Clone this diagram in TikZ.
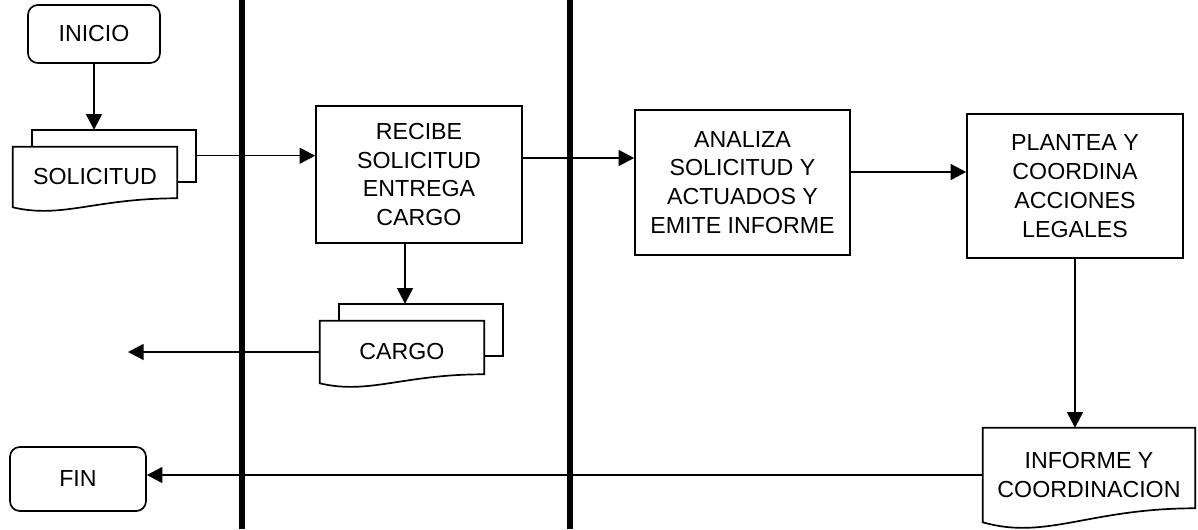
\documentclass[tikz,border=0pt]{standalone}
\usepackage{fontspec}
\setmainfont{Liberation Sans}
\usetikzlibrary{calc,arrows.meta}

\begin{document}
\begin{tikzpicture}[>={Triangle[length=0.39cm,width=0.4cm]}, x=0.025cm, y=-0.025cm]

% one layout pixel
\def\px{0.025cm}
\def\primaryColor{black}

\tikzset{
    boxText/.style={align=center, font=\fontsize{16.5}{20.5}\selectfont, inner sep=0pt, text=\primaryColor},
    process/.style={boxText, draw=\primaryColor, line width=1.2pt},
    terminal/.style={process, rounded corners=7pt},
    docLine/.style={\primaryColor, line width=1.2pt},
    flow/.style={->, \primaryColor, line width=1pt},
}

\useasboundingbox (0,0) rectangle (1198,529);

% document outline with wavy bottom
\newcommand\docOutline[2]{
    % first argument is the name of the node
    % holding the text of the document
    % second is how far the right end of the
    % wavy bottom rises above the left end
    \draw[docLine] (#1.south west) -- (#1.north west) -- (#1.north east) -- ($(#1.south east)+(0,-#2)$) .. controls ($(#1.south)+(0,-#2)$) and ($(#1.south west)!0.3!(#1.south east)+(0,1.3*#2)$) .. (#1.south west) -- cycle;
}
% second sheet behind a document
\newcommand\backSheet[1]{
    % argument is the name of the front document node,
    % also defines (#1Top) and (#1Back) for the connectors
    \draw[docLine] ($(#1.north west)+(19,0)$) -- ++(0,-17) -- ($(#1.north east)+(19,-17)$) -- ($(#1.north east)+(19,35)$) -- ($(#1.north east)+(0,35)$);
    \coordinate (#1Top) at ($(#1.north)+(19,-17)$);
    \coordinate (#1Back) at ($(#1.north east)+(19,9)$);
}

% start and end
\node[terminal, minimum width=132*\px, minimum height=58*\px] (inicio) at (94,34) {INICIO};
\node[terminal, minimum width=136*\px, minimum height=64*\px] (fin) at (78,479) {FIN};

% documents
\node[boxText, minimum width=164*\px, minimum height=60*\px] (solicitud) at (95,177) {SOLICITUD};
\docOutline{solicitud}{9}
\backSheet{solicitud}

\node[boxText, minimum width=164*\px, minimum height=62*\px] (cargo) at (402,352) {CARGO};
\docOutline{cargo}{9}
\backSheet{cargo}

\node[boxText, minimum width=212*\px, minimum height=94*\px] (informe) at (1089,475) {INFORME Y\\COORDINACION};
\docOutline{informe}{14}

% process steps
\node[process, minimum width=206*\px, minimum height=137*\px] (recibe) at (419,174.5) {RECIBE\\SOLICITUD\\ENTREGA\\CARGO};
\node[process, minimum width=215*\px, minimum height=145*\px] (analiza) at (742.5,182.5) {ANALIZA\\SOLICITUD Y\\ACTUADOS Y\\EMITE INFORME};
\node[process, minimum width=216*\px, minimum height=144*\px] (plantea) at (1075,186) {PLANTEA Y\\COORDINA\\ACCIONES\\LEGALES};

% connector end points
\coordinate (recibeOut) at ($(recibe.east)+(0,-16.5)$);
\coordinate (recibeDown) at ($(recibe.south)+(-14,0)$);
\coordinate (analizaOut) at ($(analiza.east)+(0,-10.5)$);
\coordinate (cargoOut) at (128,352);

% flow
\draw[flow] (inicio.south) -- (inicio.south |- solicitudTop);
\draw[flow] (solicitudBack) -- (solicitudBack -| recibe.west);
\draw[flow] (recibeOut) -- (recibeOut -| analiza.west);
\draw[flow] (recibeDown) -- (recibeDown |- cargoTop);
\draw[flow] (cargo.west) -- (cargoOut);
\draw[flow] (analizaOut) -- (analizaOut -| plantea.west);
\draw[flow] (plantea.south) -- (plantea.south |- informe.north);
\draw[flow] (informe.west) -- (informe.west -| fin.east);

% lane dividers
\foreach \laneX in {242,570}
    \draw[\primaryColor, line width=4.3pt] (\laneX,0) -- (\laneX,529);

\end{tikzpicture}
\end{document}
